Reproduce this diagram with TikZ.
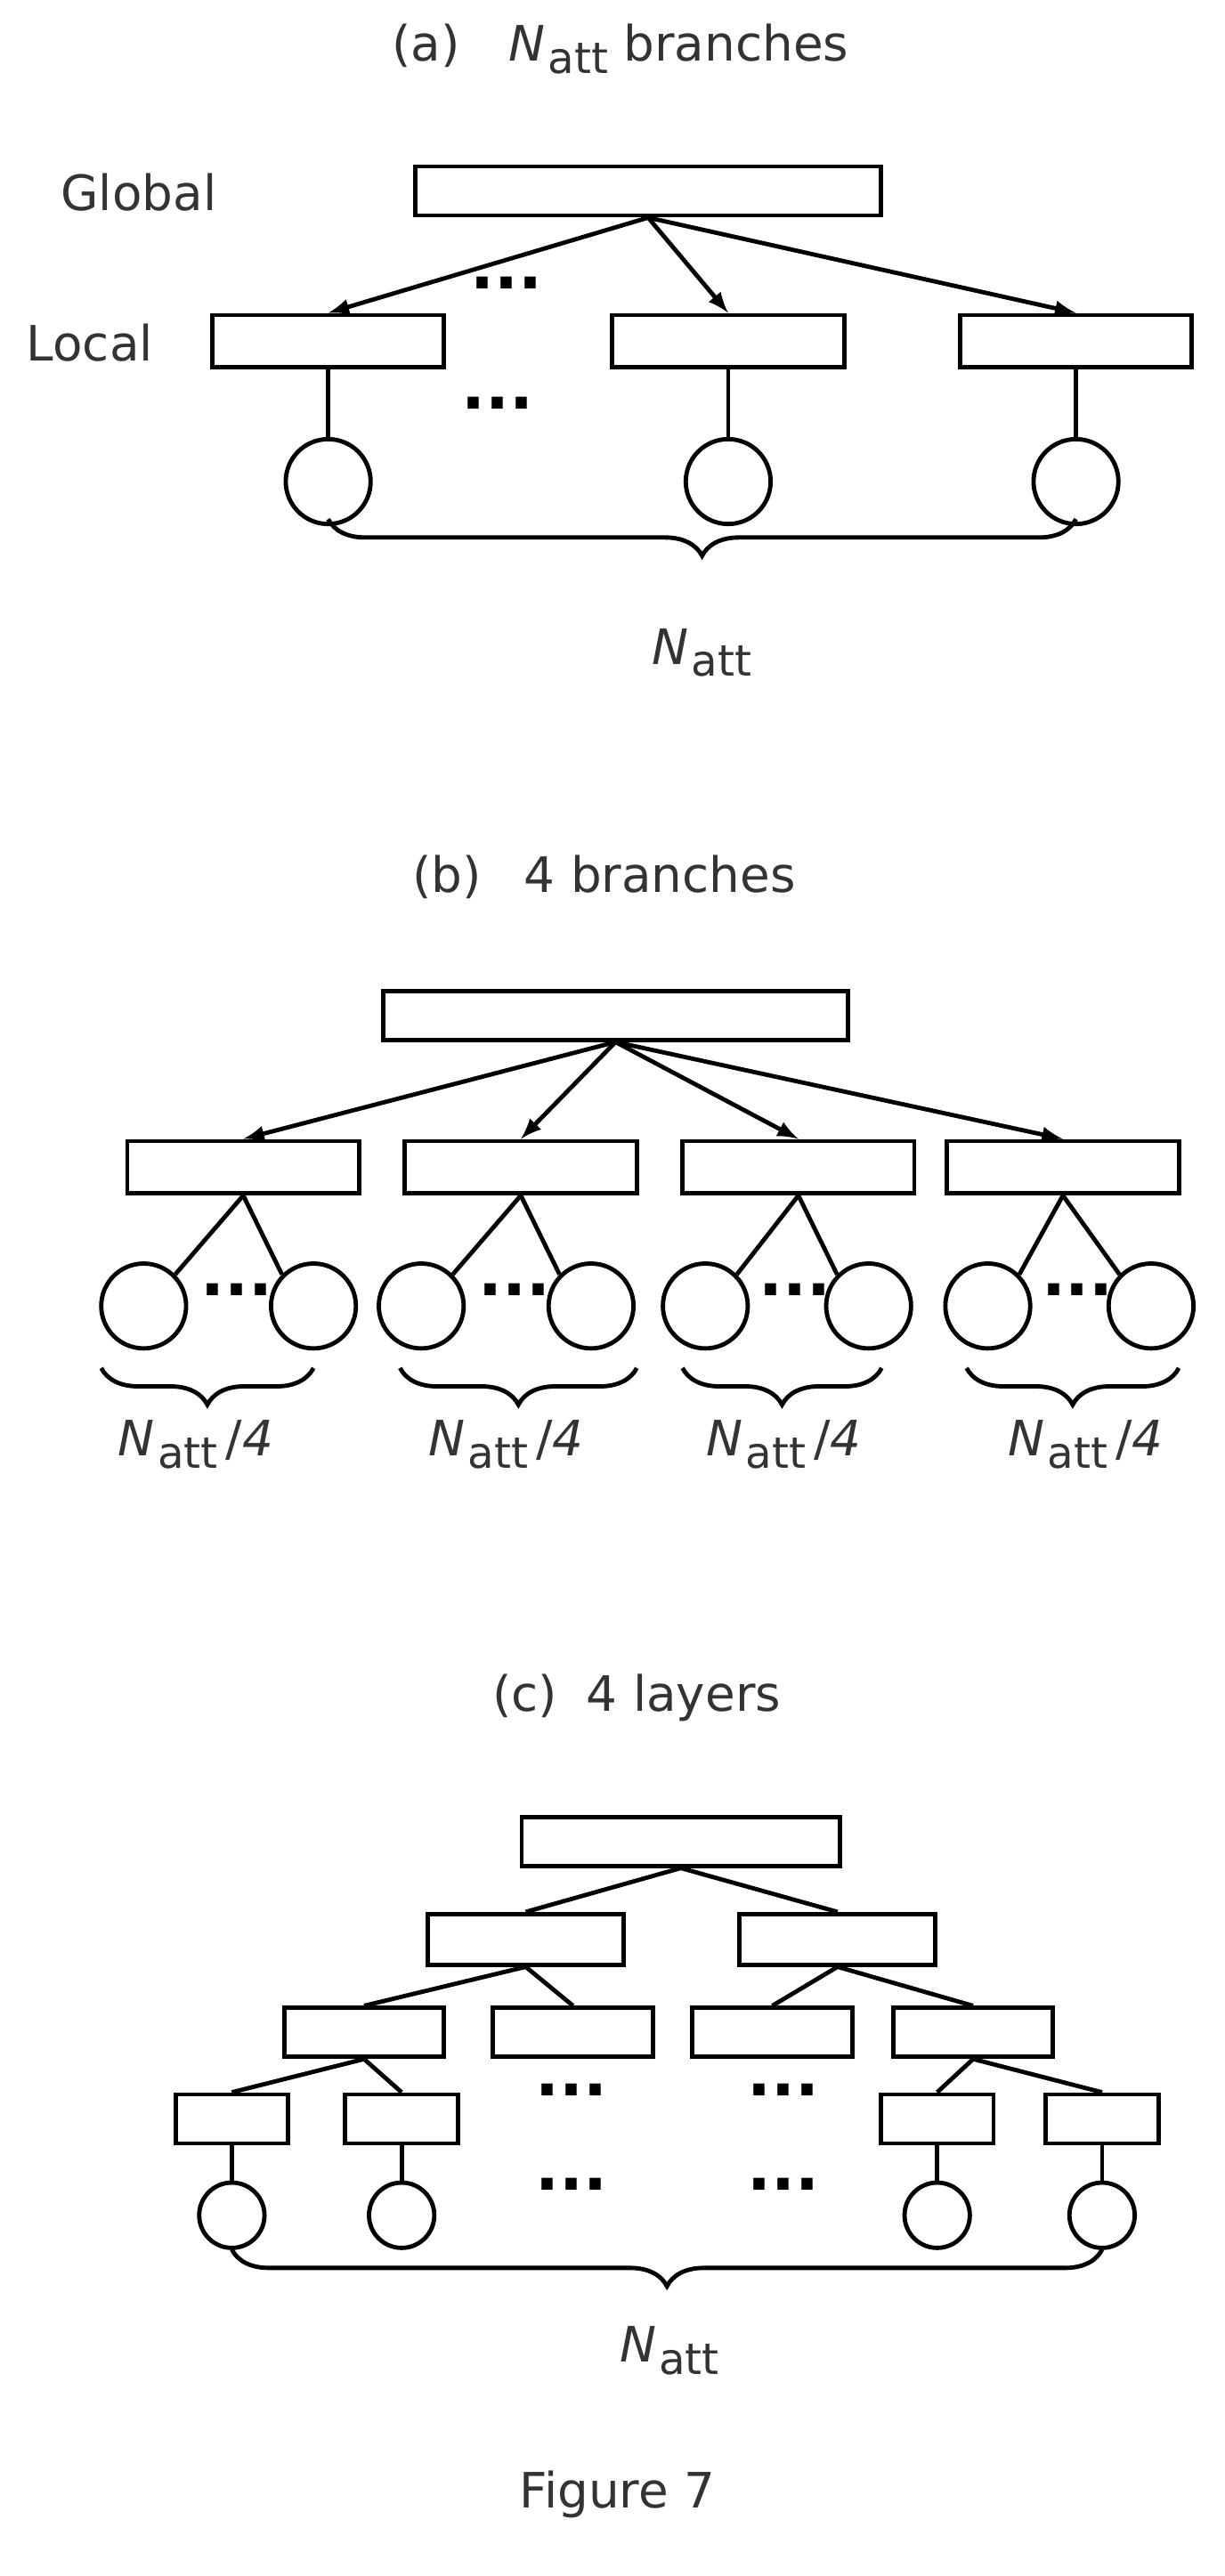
\documentclass[tikz,border=0pt]{standalone}
\usepackage{fontspec}
\setmainfont{DejaVu Sans}
\usetikzlibrary{positioning,decorations.pathreplacing}
\newcommand{\natt}{\textit{N}\kern1pt\raisebox{-0.45ex}{\fontsize{15}{17}\selectfont att}}
\begin{document}
\begin{tikzpicture}[x=0.02cm,y=-0.02cm,line width=1.5pt,
  every node/.style={font=\fontsize{17}{20}\selectfont,text=black!80},
  box/.style={draw,minimum width=2.84cm,minimum height=0.64cm,inner sep=0pt},
  bigbox/.style={box,minimum width=5.7cm,minimum height=0.6cm},
  sbox/.style={box,minimum width=1.96cm,minimum height=0.6cm},
  tbox/.style={box,minimum width=1.38cm,minimum height=0.6cm},
  circ/.style={draw,circle,minimum size=1.04cm,inner sep=0pt},
  scirc/.style={circ,minimum size=0.8cm},
  brc/.style={decorate,decoration={brace,mirror,amplitude=0.45cm}},
  dots/.style={font=\fontsize{22}{24}\selectfont\bfseries,text=black},
  >=latex]
  \useasboundingbox (0,0) rectangle (750,1578);
  % (a)
  \node (ta) at (380,30) {(a)\quad\natt\ branches};
  \node (gl) at (85,118) {Global};
  \node (lo) at (55,210) {Local};
  \node[bigbox] (G) at (397,117) {};
  \node[box] (A1) at (201,209) {};
  \node[box] (A2) at (446,209) {};
  \node[box] (A3) at (659,209) {};
  \node[circ] (a1) at (201,295) {};
  \node[circ] (a2) at (446,295) {};
  \node[circ] (a3) at (659,295) {};
  \node[dots] (da1) at (310,178) {···};
  \node[dots] (da2) at (305,252) {···};
  \foreach \i in {1,2,3} {
    \draw[->] (G.south) -- (A\i.north);
    \draw (A\i.south) -- (a\i.north);
  }
  \coordinate (ba1) at (201,318);
  \coordinate (ba2) at (659,318);
  \draw[brc] (ba1) -- (ba2);
  \node (na) at (430,400) {\natt};
  % (b)
  \node (tb) at (370,537) {(b)\;\; 4 branches};
  \node[bigbox] (H) at (377,622) {};
  \foreach \i/\x in {1/149,2/319,3/489,4/651} {
    \node[box] (B\i) at (\x,715) {};
    \draw[->] (H.south) -- (B\i.north);
  }
  \foreach \i/\l/\r/\d in {1/88/192/145,2/258/362/315,3/432/532/487,4/605/705/660} {
    \node[circ] (bl\i) at (\l,800) {};
    \node[circ] (br\i) at (\r,800) {};
    \node[dots] (db\i) at (\d,795) {···};
    \draw (B\i.south) -- (bl\i.north east);
    \draw (B\i.south) -- (br\i.north west);
  }
  \foreach \i/\a/\b/\x in {1/62/192/120,2/245/390/310,3/418/540/480,4/592/722/665} {
    \coordinate (bb\i) at (\a,838);
    \coordinate (be\i) at (\b,838);
    \draw[brc] (bb\i) -- (be\i);
    \node (nb\i) at (\x,885) {\natt\,/\textit{4}};
  }
  % (c)
  \node (tc) at (390,1040) {(c)\; 4 layers};
  \node[box,minimum width=3.9cm,minimum height=0.6cm] (C0) at (417,1128) {};
  \node[box,minimum width=2.4cm,minimum height=0.62cm] (C1) at (322,1188) {};
  \node[box,minimum width=2.4cm,minimum height=0.62cm] (C2) at (513,1188) {};
  \node[sbox] (D1) at (223,1245) {};
  \node[sbox] (D2) at (351,1245) {};
  \node[sbox] (D3) at (473,1245) {};
  \node[sbox] (D4) at (596,1245) {};
  \node[tbox] (E1) at (142,1298) {};
  \node[tbox] (E2) at (246,1298) {};
  \node[tbox] (E3) at (574,1298) {};
  \node[tbox] (E4) at (675,1298) {};
  \foreach \i/\x in {1/142,2/246,3/574,4/675} {
    \node[scirc] (c\i) at (\x,1357) {};
    \draw (E\i.south) -- (c\i.north);
  }
  \draw (C0.south) -- (C1.north);
  \draw (C0.south) -- (C2.north);
  \draw (C1.south) -- (D1.north);
  \draw (C1.south) -- (D2.north);
  \draw (C2.south) -- (D3.north);
  \draw (C2.south) -- (D4.north);
  \draw (D1.south) -- (E1.north);
  \draw (D1.south) -- (E2.north);
  \draw (D4.south) -- (E3.north);
  \draw (D4.south) -- (E4.north);
  \node[dots] (dc1) at (350,1285) {···};
  \node[dots] (dc2) at (480,1285) {···};
  \node[dots] (dc3) at (350,1343) {···};
  \node[dots] (dc4) at (480,1343) {···};
  \coordinate (bc1) at (142,1378);
  \coordinate (bc2) at (675,1378);
  \draw[brc] (bc1) -- (bc2);
  \node (nc) at (410,1440) {\natt};
  \node (fig) at (378,1528) {Figure 7};
\end{tikzpicture}
\end{document}
